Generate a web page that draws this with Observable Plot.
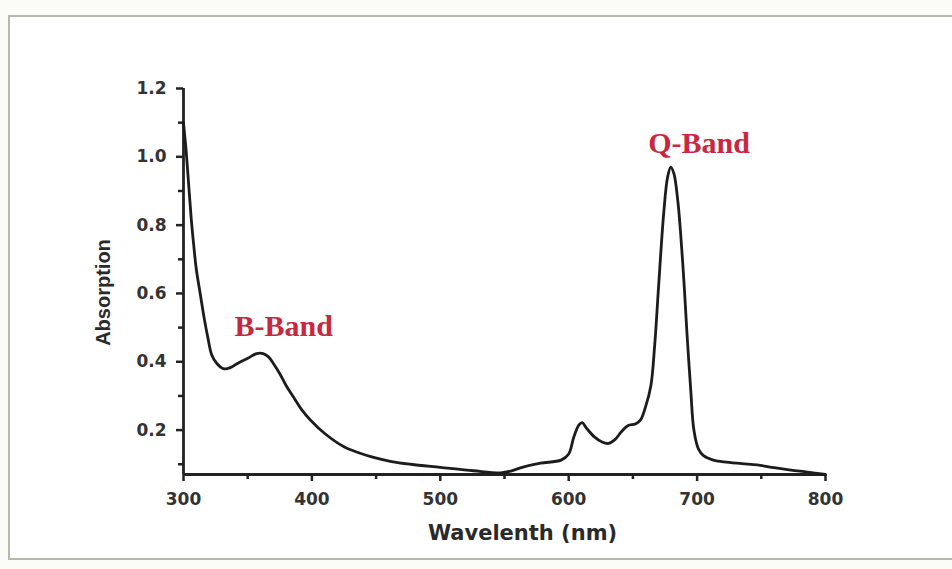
<!DOCTYPE html>
<html>
<head>
<meta charset="utf-8">
<script src="https://cdn.jsdelivr.net/npm/d3@7"></script>
<script src="https://cdn.jsdelivr.net/npm/@observablehq/plot@0.6"></script>
<style>
  html, body { margin: 0; padding: 0; background: #fbfbf8; }
  #wrap { position: relative; width: 952px; height: 569px; overflow: hidden; }
  #frame { position: absolute; left: 8px; top: 15px; width: 960px; height: 545px;
           border: 2px solid #b8b8b0; background: #ffffff; box-sizing: border-box; }
  #chart { position: absolute; left: 0; top: 0; }
</style>
</head>
<body>
<div id="wrap">
  <div id="frame"></div>
  <div id="chart"></div>
</div>
<script>
// Wavelength (nm)
const wavelength = [300, 301, 302, 304, 306, 308, 310, 313, 316, 319, 322, 326, 331, 336, 342, 350, 357, 362, 366, 370, 375, 380, 386, 392, 399, 410, 425, 437, 448, 462, 477, 500, 526, 547, 555, 563, 578, 594, 600, 604, 608, 610.5, 614, 620, 626, 631, 636, 641, 646, 652, 656, 660, 664, 667, 670, 674, 677, 679.5, 682, 685, 687, 690, 692, 695, 697.5, 701, 705, 712, 721, 735, 747, 760, 773, 786, 800];
// Absorption
const absorption = [1.10, 1.06, 1.02, 0.92, 0.82, 0.74, 0.67, 0.60, 0.53, 0.47, 0.42, 0.395, 0.38, 0.382, 0.395, 0.41, 0.424, 0.424, 0.415, 0.395, 0.365, 0.33, 0.295, 0.26, 0.229, 0.19, 0.151, 0.133, 0.12, 0.108, 0.10, 0.091, 0.081, 0.075, 0.08, 0.09, 0.103, 0.112, 0.13, 0.18, 0.215, 0.222, 0.205, 0.18, 0.165, 0.161, 0.172, 0.195, 0.213, 0.218, 0.23, 0.27, 0.33, 0.45, 0.62, 0.835, 0.94, 0.97, 0.95, 0.87, 0.785, 0.62, 0.49, 0.32, 0.2, 0.145, 0.125, 0.113, 0.107, 0.102, 0.098, 0.09, 0.083, 0.077, 0.07];

const xTicks = [300, 400, 500, 600, 700, 800];
const xMinorTicks = [350, 450, 550, 650, 750];
const yTicks = [0.2, 0.4, 0.6, 0.8, 1.0, 1.2];
const yMinorTicks = [0.1, 0.3, 0.5, 0.7, 0.9, 1.1];

const bandLabels = ["B-Band", "Q-Band"];
const bandX = [378, 701.5];
const bandY = [0.504, 1.039];

const spectrum = wavelength.map((w, i) => ({w, a: absorption[i]}));
const bands = bandLabels.map((t, i) => ({t, x: bandX[i], y: bandY[i]}));

const yMin = 0.07;
const tickFont = "DejaVu Sans, Verdana, sans-serif";

const plot = Plot.plot({
  width: 952,
  height: 569,
  marginLeft: 183,
  marginRight: 127,
  marginTop: 88,
  marginBottom: 95,
  style: {background: "transparent", fontFamily: tickFont, overflow: "visible"},
  x: {domain: [300, 800]},
  y: {domain: [yMin, 1.2]},
  marks: [
    Plot.axisX({ticks: xTicks, tickSize: 7, tickPadding: 11, strokeWidth: 2.5, stroke: "#222",
                fontSize: 17, fontWeight: "bold", fill: "#333", label: null, tickFormat: d3.format("d")}),
    Plot.axisX({ticks: xMinorTicks, tickSize: 5, strokeWidth: 2.5, stroke: "#222", text: null, label: null}),
    Plot.axisY({ticks: yTicks, tickSize: 7, tickPadding: 10, strokeWidth: 2.5, stroke: "#222",
                fontSize: 17, fontWeight: "bold", fill: "#333", label: null, tickFormat: d3.format(".1f")}),
    Plot.axisY({ticks: yMinorTicks, tickSize: 5, strokeWidth: 2.5, stroke: "#222", text: null, label: null}),
    Plot.ruleX([300], {stroke: "#222", strokeWidth: 2.8}),
    Plot.ruleY([yMin], {stroke: "#222", strokeWidth: 2.8}),
    Plot.line(spectrum, {x: "w", y: "a", curve: "catmull-rom", stroke: "#1c1c1c", strokeWidth: 2.8}),
    Plot.text(bands, {x: "x", y: "y", text: "t", textAnchor: "middle", lineAnchor: "middle",
                      fill: "#c8283f", fontSize: 30, fontWeight: "bold",
                      fontFamily: "Liberation Serif, Times New Roman, serif"}),
    Plot.text(["Wavelenth (nm)"], {frameAnchor: "bottom", dx: 18, dy: 59, fontSize: 21, fontWeight: "bold",
                                   fill: "#2a2a2a", fontFamily: tickFont, lineAnchor: "middle"}),
    Plot.text(["Absorption"], {frameAnchor: "left", textAnchor: "middle", lineAnchor: "middle",
                               dx: -80, dy: 11, rotate: -90, fontSize: 20, fontWeight: "bold",
                               fill: "#2a2a2a", fontFamily: "Liberation Sans, Arial, sans-serif"})
  ]
});
document.getElementById("chart").appendChild(plot);
</script>
</body>
</html>
